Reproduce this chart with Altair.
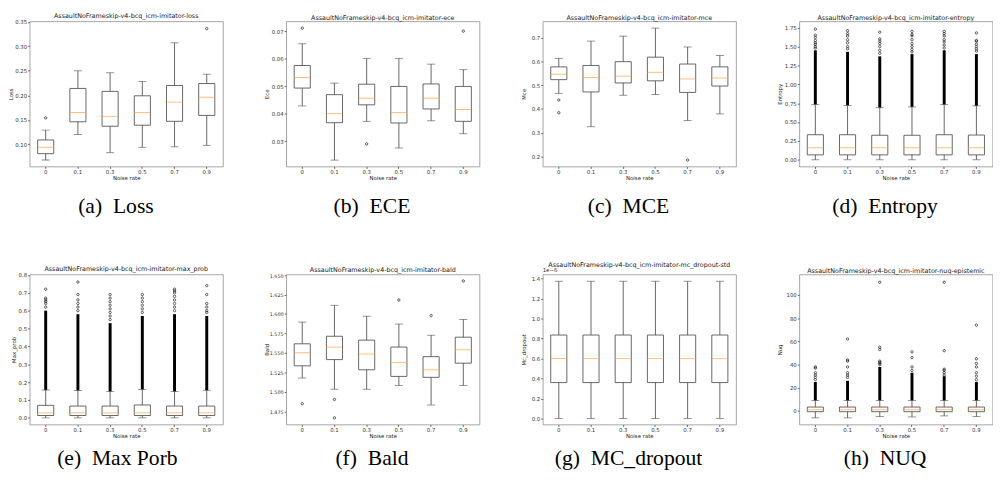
import altair as alt
import pandas as pd

NOISE = ["0", "0.1", "0.3", "0.5", "0.7", "0.9"]
PREFIX = "AssaultNoFrameskip-v4-bcq_icm-imitator-"

# (a) Loss
loss_lo = [0.068, 0.120, 0.083, 0.094, 0.095, 0.098]
loss_q1 = [0.081, 0.146, 0.137, 0.139, 0.147, 0.159]
loss_med = [0.094, 0.165, 0.157, 0.165, 0.186, 0.196]
loss_q3 = [0.109, 0.214, 0.208, 0.199, 0.220, 0.224]
loss_hi = [0.129, 0.250, 0.246, 0.228, 0.307, 0.243]
loss_out = [[0.154], [], [], [], [], [0.336]]

# (b) ECE
ece_lo = [0.0429, 0.0232, 0.0373, 0.0276, 0.0375, 0.0328]
ece_q1 = [0.0494, 0.0368, 0.0433, 0.0367, 0.0418, 0.0373]
ece_med = [0.0532, 0.0401, 0.0457, 0.0405, 0.0457, 0.0416]
ece_q3 = [0.0576, 0.0470, 0.0508, 0.0500, 0.0509, 0.0500]
ece_hi = [0.0655, 0.0512, 0.0602, 0.0602, 0.0581, 0.0561]
ece_out = [[0.0712], [], [0.0291], [], [], [0.0701]]

# (c) MCE
mce_lo = [0.466, 0.325, 0.458, 0.461, 0.351, 0.379]
mce_q1 = [0.524, 0.472, 0.510, 0.519, 0.470, 0.497]
mce_med = [0.547, 0.533, 0.539, 0.555, 0.527, 0.531]
mce_q3 = [0.578, 0.584, 0.600, 0.619, 0.590, 0.578]
mce_hi = [0.614, 0.687, 0.708, 0.742, 0.662, 0.626]
mce_out = [[0.438, 0.384], [], [], [], [0.184], []]

# (d) Entropy
ent_lo = [0.0, 0.0, 0.0, 0.0, 0.0, 0.0]
ent_q1 = [0.065, 0.065, 0.065, 0.065, 0.065, 0.065]
ent_med = [0.16, 0.16, 0.16, 0.16, 0.16, 0.16]
ent_q3 = [0.332, 0.332, 0.325, 0.325, 0.332, 0.328]
ent_hi = [0.73, 0.72, 0.69, 0.70, 0.73, 0.715]
ent_dense_top = [1.45, 1.43, 1.37, 1.40, 1.45, 1.40]
ent_out = [
    [1.48, 1.50, 1.53, 1.55, 1.58, 1.62, 1.65, 1.73],
    [1.47, 1.50, 1.55, 1.59, 1.64, 1.67, 1.71],
    [1.41, 1.45, 1.50, 1.54, 1.57, 1.60, 1.69],
    [1.43, 1.46, 1.50, 1.54, 1.59, 1.64, 1.66, 1.70],
    [1.48, 1.52, 1.56, 1.59, 1.64, 1.67, 1.70],
    [1.44, 1.47, 1.50, 1.53, 1.57, 1.58, 1.68],
]

# (e) Max prob
mp_lo = [0.0, 0.0, 0.0, 0.0, 0.0, 0.0]
mp_q1 = [0.013, 0.013, 0.013, 0.013, 0.013, 0.013]
mp_med = [0.028, 0.028, 0.028, 0.028, 0.028, 0.028]
mp_q3 = [0.070, 0.066, 0.066, 0.072, 0.066, 0.066]
mp_hi = [0.156, 0.153, 0.147, 0.158, 0.147, 0.154]
mp_dense_top = [0.60, 0.58, 0.53, 0.57, 0.58, 0.57]
mp_out = [
    [0.62, 0.64, 0.65, 0.66, 0.67, 0.72],
    [0.60, 0.62, 0.64, 0.66, 0.69, 0.76],
    [0.55, 0.57, 0.59, 0.61, 0.63, 0.65, 0.67, 0.69],
    [0.59, 0.61, 0.63, 0.65, 0.67, 0.69],
    [0.60, 0.62, 0.64, 0.66, 0.68, 0.70, 0.71, 0.72],
    [0.59, 0.60, 0.62, 0.64, 0.69, 0.74],
]

# (f) Bald
bald_lo = [1.5177, 1.5033, 1.5033, 1.5080, 1.4830, 1.5080]
bald_q1 = [1.5334, 1.5414, 1.5283, 1.5198, 1.5186, 1.5368]
bald_med = [1.5503, 1.5575, 1.5486, 1.5376, 1.5283, 1.5541]
bald_q3 = [1.5617, 1.5714, 1.5664, 1.5575, 1.5452, 1.5702]
bald_hi = [1.5896, 1.6112, 1.5972, 1.5871, 1.5727, 1.5930]
bald_out = [[1.4847], [1.4902, 1.4665], [], [1.6180], [1.5980], [1.6425]]

# (g) MC dropout std (x 1e-6)
mc_lo = [0.0, 0.0, 0.0, 0.0, 0.0, 0.0]
mc_q1 = [0.36, 0.36, 0.36, 0.36, 0.36, 0.36]
mc_med = [0.60, 0.60, 0.60, 0.60, 0.60, 0.60]
mc_q3 = [0.836, 0.836, 0.836, 0.836, 0.836, 0.836]
mc_hi = [1.374, 1.374, 1.374, 1.374, 1.374, 1.374]
mc_out = [[], [], [], [], [], []]

# (h) NUQ epistemic
nuq_lo = [-5.9, -5.9, -4.8, -5.1, -4.2, -4.8]
nuq_q1 = [-0.6, -0.6, -0.6, -0.6, -0.6, -0.6]
nuq_med = [1.1, 1.1, 1.1, 1.1, 1.1, 1.1]
nuq_q3 = [3.4, 3.4, 3.4, 3.4, 3.4, 3.4]
nuq_hi = [9.0, 9.0, 9.0, 9.0, 9.0, 9.0]
nuq_dense_top = [25, 26, 38, 33, 30, 25]
nuq_out = [
    [27, 29, 31, 33, 37, 38],
    [29, 31, 33, 38, 43, 44, 62],
    [40, 41, 42, 43, 53, 55, 111],
    [35, 38, 46, 51],
    [31, 33, 35, 36, 52, 111],
    [27, 30, 33, 38, 41, 45, 74],
]

W = 197
BOX = "#555555"
MED = "#ffa24a"
FONT = "DejaVu Sans"


def panel(suffix, ytitle, lo, q1, med, q3, hi, outs, dense_top, domain, ticks,
          fmt, height, ext, caption, cap_offset, label_size=5.5, offset_text=None):
    band = W / len(NOISE)
    box_df = pd.DataFrame({"noise": NOISE, "lo": lo, "q1": q1, "med": med,
                           "q3": q3, "hi": hi})
    out_rows = [{"noise": n, "v": v} for n, vs in zip(NOISE, outs) for v in vs]
    out_df = pd.DataFrame(out_rows if out_rows else [{"noise": "0", "v": None}])

    xax = alt.Axis(title="Noise rate", labelAngle=0, tickSize=2, labelPadding=1,
                   labelFontSize=5.5, titleFontSize=5.5, titlePadding=1,
                   titleFontWeight="normal", domain=False, grid=False,
                   labelFont=FONT, titleFont=FONT, tickColor="#666",
                   labelColor="#333", titleColor="#222")
    yax = alt.Axis(title=ytitle, values=ticks, format=fmt, tickSize=2,
                   labelPadding=1, labelFontSize=label_size, titleFontSize=5.5,
                   titlePadding=1, titleFontWeight="normal", domain=False,
                   grid=False, minExtent=ext, maxExtent=ext, labelFont=FONT,
                   titleFont=FONT, tickColor="#666", labelColor="#333",
                   titleColor="#222")
    xenc = alt.X("noise:O", sort=NOISE,
                 scale=alt.Scale(domain=NOISE, paddingInner=0, paddingOuter=0),
                 axis=xax)
    ysc = alt.Scale(domain=domain, nice=False, zero=False)

    base = alt.Chart(box_df)
    whisk = base.mark_rule(color=BOX, strokeWidth=0.9).encode(
        x=xenc, y=alt.Y("lo:Q", scale=ysc, axis=yax), y2="hi:Q")
    layers = [whisk]
    if dense_top is not None:
        dd = pd.DataFrame({"noise": NOISE, "d0": hi, "d1": dense_top})
        layers.append(alt.Chart(dd).mark_rule(color="black", strokeWidth=3).encode(
            x=xenc, y=alt.Y("d0:Q", scale=ysc, axis=yax), y2="d1:Q"))
    box = base.mark_bar(fill="white", stroke=BOX, strokeWidth=0.9,
                        width=alt.RelativeBandSize(0.5)).encode(
        x=xenc, y=alt.Y("q1:Q", scale=ysc, axis=yax), y2="q3:Q")
    medt = base.mark_tick(color=MED, thickness=1, size=band * 0.5).encode(
        x=xenc, y=alt.Y("med:Q", scale=ysc, axis=yax))
    cap_lo = base.mark_tick(color=BOX, thickness=0.9, size=band * 0.25).encode(
        x=xenc, y=alt.Y("lo:Q", scale=ysc, axis=yax))
    cap_hi = base.mark_tick(color=BOX, thickness=0.9, size=band * 0.25).encode(
        x=xenc, y=alt.Y("hi:Q", scale=ysc, axis=yax))
    pts = alt.Chart(out_df).mark_point(shape="circle", filled=False, size=6,
                                       strokeWidth=0.6, color="black",
                                       opacity=1).encode(
        x=xenc, y=alt.Y("v:Q", scale=ysc, axis=yax))
    layers += [box, medt, cap_lo, cap_hi, pts]
    if offset_text:
        od = pd.DataFrame({"t": [offset_text]})
        layers.append(alt.Chart(od).mark_text(align="left", baseline="bottom",
                                              fontSize=5.5, font=FONT,
                                              color="#333").encode(
            x=alt.value(0), y=alt.value(-1), text="t:N"))
    plot = alt.layer(*layers).properties(
        width=W, height=height,
        title=alt.TitleParams(PREFIX + suffix, fontSize=6.5, font=FONT,
                              fontWeight="normal", offset=0, color="#222"))
    cell = alt.vconcat(plot, spacing=0).properties(
        title=alt.TitleParams(caption, orient="bottom", font="Liberation Serif",
                              fontSize=22, fontWeight="normal",
                              offset=cap_offset, anchor="middle",
                              color="black"))
    return cell


H1, H2 = 148, 153
C1, C2 = 15, 9

a = panel("loss", "Loss", loss_lo, loss_q1, loss_med, loss_q3, loss_hi, loss_out,
          None, [0.055, 0.351], [0.10, 0.15, 0.20, 0.25, 0.30, 0.35], ".2f",
          H1, 15, "(a)\u00a0 Loss", C1)
b = panel("ece", "Ece", ece_lo, ece_q1, ece_med, ece_q3, ece_hi, ece_out, None,
          [0.0209, 0.0737], [0.03, 0.04, 0.05, 0.06, 0.07], ".2f", H1, 16,
          "(b)\u00a0 ECE", C1)
c = panel("mce", "Mce", mce_lo, mce_q1, mce_med, mce_q3, mce_hi, mce_out, None,
          [0.157, 0.771], [0.2, 0.3, 0.4, 0.5, 0.6, 0.7], ".1f", H1, 16,
          "(c)\u00a0 MCE", C1)
d = panel("entropy", "Entropy", ent_lo, ent_q1, ent_med, ent_q3, ent_hi, ent_out,
          ent_dense_top, [-0.088, 1.835],
          [0.0, 0.25, 0.5, 0.75, 1.0, 1.25, 1.5, 1.75], ".2f", H1, 16,
          "(d)\u00a0 Entropy", C1)
e = panel("max_prob", "Max_prob", mp_lo, mp_q1, mp_med, mp_q3, mp_hi, mp_out,
          mp_dense_top, [-0.037, 0.803],
          [0.0, 0.1, 0.2, 0.3, 0.4, 0.5, 0.6, 0.7, 0.8], ".1f", H2, 12,
          "(e)\u00a0 Max Porb", C2)
f = panel("bald", "Bald", bald_lo, bald_q1, bald_med, bald_q3, bald_hi, bald_out,
          None, [1.458, 1.651],
          [1.475, 1.5, 1.525, 1.55, 1.575, 1.6, 1.625, 1.65], ".3f", H2, 16,
          "(f)\u00a0 Bald", C2, label_size=5.0)
g = panel("mc_dropout-std", "Mc_dropout", mc_lo, mc_q1, mc_med, mc_q3, mc_hi,
          mc_out, None, [-0.059, 1.443], [0.0, 0.2, 0.4, 0.6, 0.8, 1.0, 1.2, 1.4],
          ".1f", H2, 16, "(g)\u00a0 MC_dropout", C2, offset_text="1e\u22126")
h = panel("nuq-epistemic", "Nuq", nuq_lo, nuq_q1, nuq_med, nuq_q3, nuq_hi,
          nuq_out, nuq_dense_top, [-11.6, 117.8], [0, 20, 40, 60, 80, 100], "d",
          H2, 16, "(h)\u00a0 NUQ", C2)

row1 = alt.hconcat(a, b, c, d, spacing=40.5)
row2 = alt.hconcat(e, f, g, h, spacing=40.5)
chart = alt.vconcat(row1, row2, spacing=45).properties(
    padding=0, background="white"
).configure_view(stroke="#9a9a9a", strokeWidth=0.9).configure_concat(spacing=0)

chart.save("out.html", embed_options={"renderer": "svg", "actions": False})
